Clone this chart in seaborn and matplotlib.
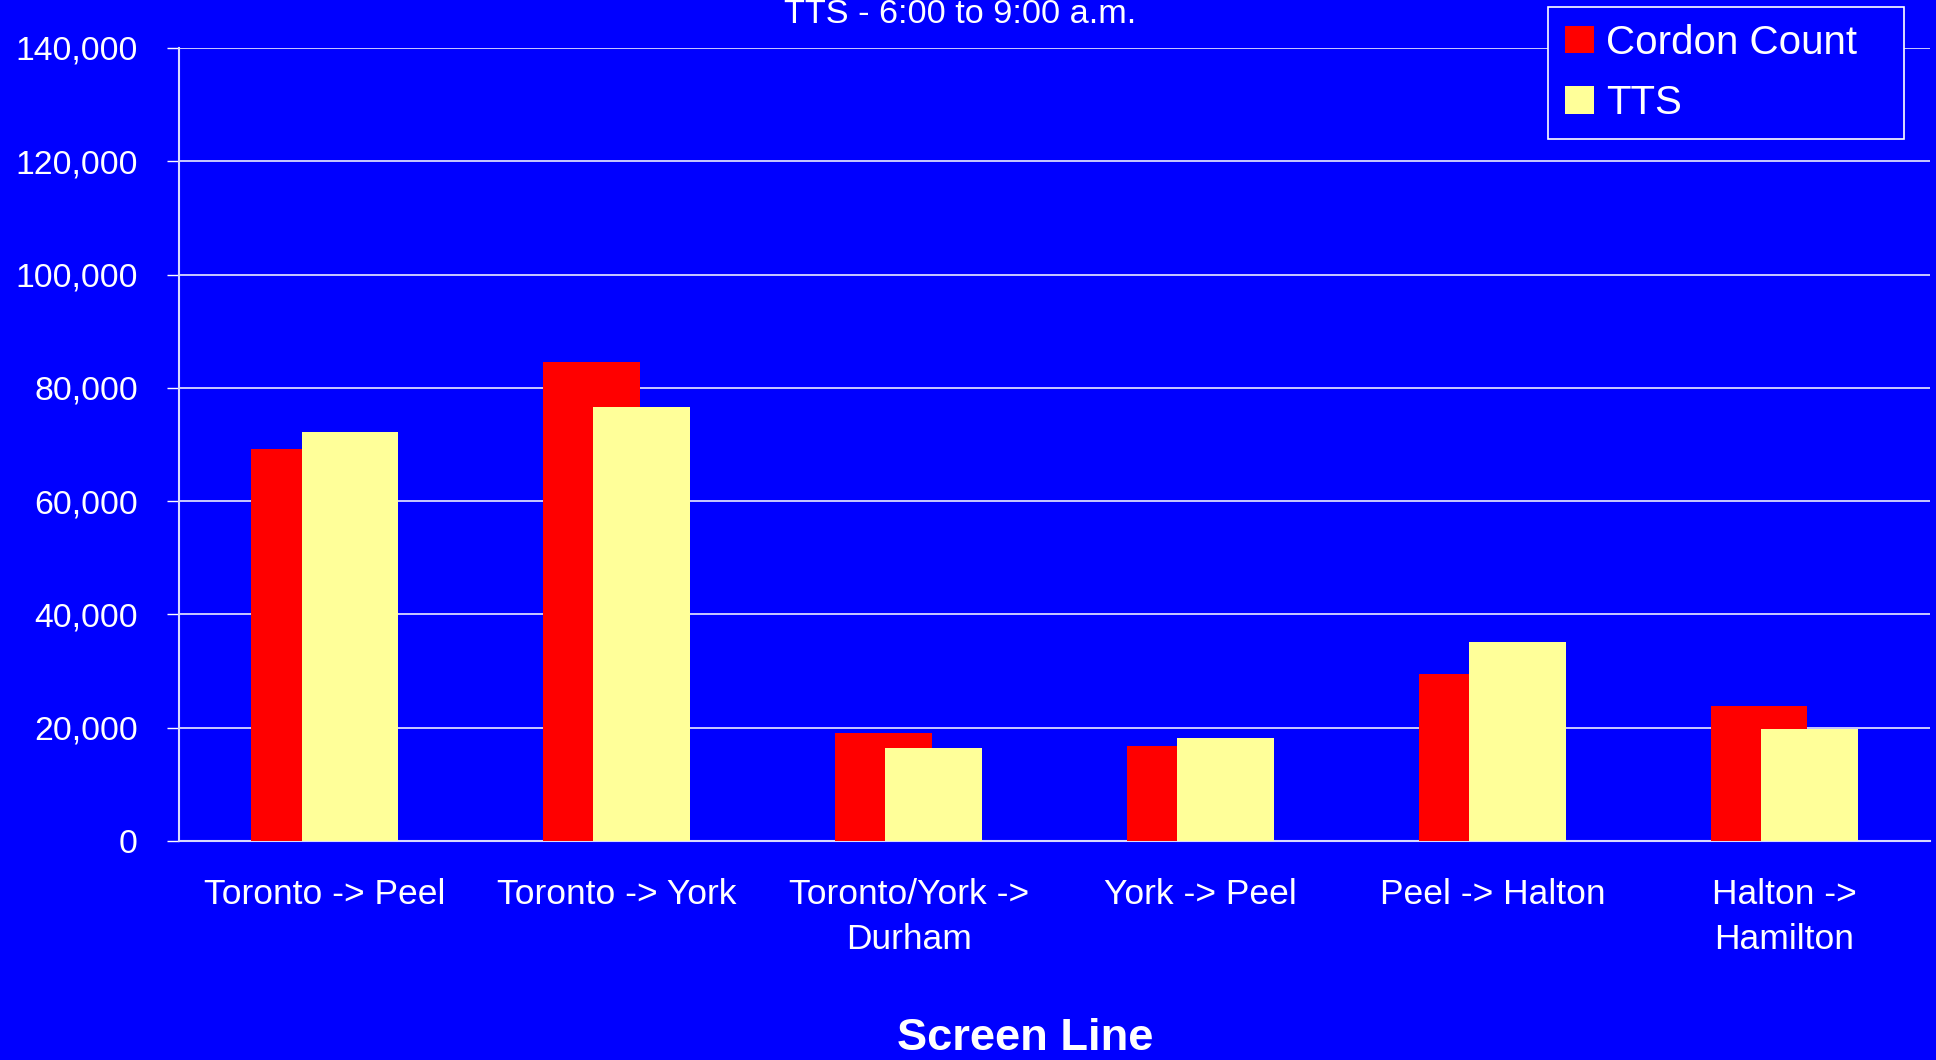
import numpy as np
import pandas as pd
import matplotlib
matplotlib.use("Agg")
import matplotlib.pyplot as plt
from matplotlib.ticker import FuncFormatter, FixedLocator
import seaborn as sns

categories = ["Toronto -> Peel", "Toronto -> York", "Toronto/York ->\nDurham",
              "York -> Peel", "Peel -> Halton", "Halton ->\nHamilton"]
cordon_count = [69200, 84500, 19000, 16800, 29500, 23800]
tts = [72200, 76600, 16400, 18200, 35100, 19800]
y_ticks = [0, 20000, 40000, 60000, 80000, 100000, 120000, 140000]

BLUE = "#0000FF"
RED = "#FF0000"
YELLOW = "#FFFF99"

sns.set_style("white")
plt.rcParams["font.family"] = ["Liberation Sans", "DejaVu Sans"]

fig = plt.figure(figsize=(19.36, 10.60), dpi=100)
fig.patch.set_facecolor(BLUE)
ax = fig.add_axes([179/1936, 1-841/1060, (1930-179)/1936, (841-48)/1060])
ax.set_facecolor(BLUE)

idx = np.arange(len(categories))
off = 0.086
df_c = pd.DataFrame({"x": idx - off, "v": cordon_count})
df_t = pd.DataFrame({"x": idx + off, "v": tts})

sns.barplot(data=df_c, x="x", y="v", native_scale=True, width=0.332, color=RED,
            saturation=1, linewidth=0, errorbar=None, label="Cordon Count", ax=ax, zorder=3)
sns.barplot(data=df_t, x="x", y="v", native_scale=True, width=0.332, color=YELLOW,
            saturation=1, linewidth=0, errorbar=None, label="TTS", ax=ax, zorder=4)

ax.set_xlim(-0.5, len(categories) - 0.5)
ax.set_ylim(0, 140000)
ax.set_yticks(y_ticks)
ax.yaxis.set_major_formatter(FuncFormatter(lambda v, p: f"{int(v):,}"))
ax.set_xticks(idx)
ax.set_xticklabels(categories, linespacing=1.43)
ax.xaxis.set_minor_locator(FixedLocator(np.arange(len(categories) + 1) - 0.5))
ax.tick_params(axis="x", which="major", length=0, pad=27, labelsize=25.5,
               labelcolor="white")
ax.tick_params(axis="x", which="minor", length=7, width=1.2, color="white", direction="out")
ax.tick_params(axis="y", which="major", length=8.6, width=1, color="white",
               pad=21, labelsize=24.3, labelcolor="white", left=True)
ax.set_xlabel("")
ax.set_ylabel("")

ax.grid(axis="y", color="white", linewidth=1.1, zorder=0)
ax.set_axisbelow(True)
for s in ["top", "right"]:
    ax.spines[s].set_visible(False)
ax.spines["left"].set_color("#d8d8ff")
ax.spines["left"].set_linewidth(1.5)
ax.spines["bottom"].set_color("#d8d8ff")
ax.spines["bottom"].set_linewidth(1.5)

fig.text(960/1936, 1-22.7/1060, "TTS - 6:00 to 9:00 a.m.", ha="center",
         va="baseline", fontsize=24.7, color="white")
fig.text(1025/1936, 1-1050/1060, "Screen Line", ha="center", va="baseline",
         fontsize=32.6, fontweight="bold", color="white")

leg = ax.legend(loc="upper left", bbox_to_anchor=(1548/1936, 1-133/1060, 356/1936, 126/1060),
                bbox_transform=fig.transFigure, mode="expand", fontsize=29,
                frameon=True, fancybox=False, handlelength=0.72, handleheight=0.66,
                handletextpad=0.3, labelspacing=0.55, borderpad=0.42,
                borderaxespad=0)
leg.get_frame().set_facecolor(BLUE)
leg.get_frame().set_edgecolor("white")
leg.get_frame().set_linewidth(1.2)
leg.get_frame().set_alpha(1)
for t in leg.get_texts():
    t.set_color("white")

fig.savefig("out.png", dpi=100, facecolor=BLUE)
